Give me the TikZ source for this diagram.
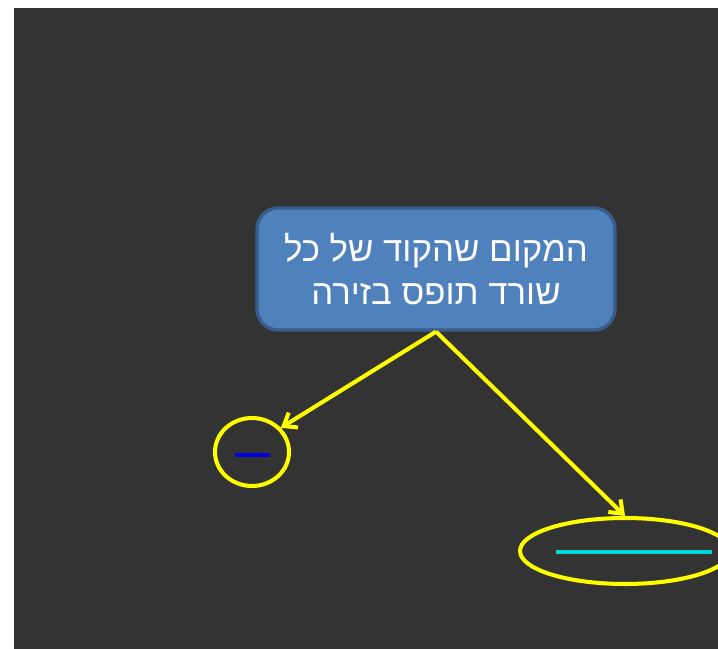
\documentclass[tikz,border=0pt]{standalone}
\usepackage{fontspec}
\usetikzlibrary{shapes.geometric,arrows.meta}
\newfontfamily\hebfont[Script=Hebrew]{Liberation Sans}
\TeXXeTstate=1
\definecolor{slate}{HTML}{333333}
\definecolor{boxfill}{HTML}{4F81BD}
\definecolor{boxedge}{HTML}{385D8A}
\definecolor{hiyellow}{HTML}{FFFF00}
\definecolor{lineblue}{HTML}{0000E0}
\definecolor{linecyan}{HTML}{00D8D8}

\begin{document}
\begin{tikzpicture}[x=0.02cm,y=-0.02cm]
    \tikzstyle{box}=[draw=boxedge, fill=boxfill, line width=1.9pt, rounded corners=0.42cm, minimum width=7.16cm, minimum height=2.44cm, text=white, align=center, font=\hebfont\fontsize{19.8}{24.5}\selectfont];
    \tikzstyle{ring}=[draw=hiyellow, ellipse, line width=2.3pt, inner sep=0];
    \tikzstyle{pointer}=[draw=hiyellow, line width=2.3pt, -{Straight Barb[length=6.5pt,width=10pt,line width=2.3pt]}];

    % page and dark slide area
    \fill[white] (0,0) rectangle (718,649);
    \fill[slate] (14,8) rectangle (718,649);
    \useasboundingbox (0,0) rectangle (718,649);

    \node[box] at (436,269) (note) {\beginR המקום שהקוד של כל\endR\\\beginR שורד תופס בזירה\endR};
    \node[ring, minimum width=1.48cm, minimum height=1.36cm] at (252,452) (small) {};
    \node[ring, minimum width=4.2cm, minimum height=1.32cm] at (625,551) (wide) {};

    \draw[lineblue, line width=1.8pt] (235,455) -- (270,455);
    \draw[linecyan, line width=1.8pt] (556,552) -- (712,552);

    \draw[pointer] (note.south) -- (small.40);
    \draw[pointer] (note.south) -- (wide.north);
\end{tikzpicture}
\end{document}
